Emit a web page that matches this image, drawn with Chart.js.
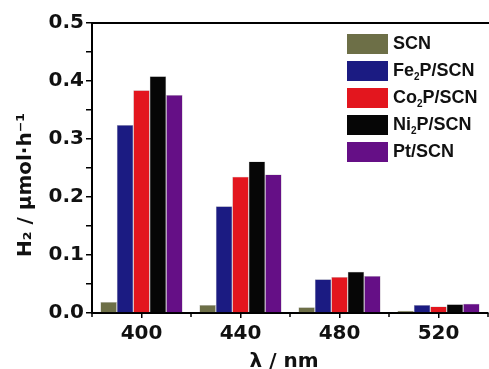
<!DOCTYPE html>
<html>
<head>
<meta charset="utf-8">
<script src="https://cdn.jsdelivr.net/npm/chart.js@4"></script>
<style>
  html, body { margin: 0; padding: 0; background: #fff; overflow: hidden; }
  #wrap { position: relative; width: 489px; height: 369px; }
  #legend { position: absolute; left: 347px; top: 30px; font: bold 18px 'Liberation Sans Narrow', Arial, sans-serif; color: #111; }
  #legend .row { display: flex; align-items: center; height: 27px; }
  #legend .box { width: 41px; height: 20px; margin-right: 5px; }
  #legend sub { font-size: 10px; vertical-align: -4px; }
</style>
</head>
<body>
<div id="wrap">
  <canvas id="chart" width="489" height="369"></canvas>
  <div id="legend"></div>
</div>
<script>
document.addEventListener('DOMContentLoaded', function() {

    // --- data ---
    const wavelengths = ['400', '440', '480', '520'];
    const seriesNames = ['SCN', 'Fe<sub>2</sub>P/SCN', 'Co<sub>2</sub>P/SCN', 'Ni<sub>2</sub>P/SCN', 'Pt/SCN'];
    const seriesPlain = ['SCN', 'Fe₂P/SCN', 'Co₂P/SCN', 'Ni₂P/SCN', 'Pt/SCN'];
    const scn   = [0.019, 0.014, 0.010, 0.004];
    const fe2p  = [0.324, 0.184, 0.058, 0.014];
    const co2p  = [0.384, 0.235, 0.062, 0.011];
    const ni2p  = [0.408, 0.261, 0.071, 0.015];
    const ptscn = [0.376, 0.239, 0.064, 0.016];
    const yTicks = [0, 0.1, 0.2, 0.3, 0.4, 0.5];
    const xTitle = 'λ / nm';
    const yTitle = 'H₂ / μmol·h⁻¹';

    const colors = ['#6d6f47', '#1b1b82', '#e3161e', '#060606', '#650f86'];
    const values = [scn, fe2p, co2p, ni2p, ptscn];

    const tickFont = "'DejaVu Sans', Verdana, sans-serif";

    // top frame line, minor ticks between categories, axis titles
    const framePlugin = {
        id: 'frame',
        afterDraw(chart) {
            const { ctx, chartArea: a, scales } = chart;
            ctx.save();
            ctx.strokeStyle = '#000';
            ctx.lineWidth = 2;
            ctx.beginPath();
            ctx.moveTo(a.left, a.top);
            ctx.lineTo(chart.width, a.top);
            ctx.stroke();
            ctx.lineWidth = 1.5;
            for (let i = 0; i <= wavelengths.length; i++) {
                const x = scales.x.getPixelForValue(i - 0.5);
                ctx.beginPath();
                ctx.moveTo(x, a.bottom);
                ctx.lineTo(x, a.bottom + 4);
                ctx.stroke();
            }
            ctx.fillStyle = '#111';
            ctx.font = "bold 20px " + tickFont;
            ctx.textAlign = 'center';
            ctx.textBaseline = 'alphabetic';
            ctx.fillText(xTitle, (a.left + a.right) / 2 - 6, chart.height - 2);
            ctx.translate(26, (a.top + a.bottom) / 2 + 17);
            ctx.rotate(-Math.PI / 2);
            ctx.textBaseline = 'middle';
            ctx.fillText(yTitle, 0, 0);
            ctx.restore();
        }
    };

    new Chart(document.getElementById('chart'), {
        type: 'bar',
        data: {
            labels: wavelengths,
            datasets: values.map((v, i) => ({
                label: seriesPlain[i],
                data: v,
                backgroundColor: colors[i],
                borderColor: 'rgba(0,0,0,0.3)',
                borderWidth: 0.5,
                categoryPercentage: 0.83,
                barPercentage: 1
            }))
        },
        options: {
            responsive: false,
            animation: false,
            layout: { padding: { top: 23, right: 1, left: 0, bottom: 0 } },
            plugins: { legend: { display: false }, tooltip: { enabled: false } },
            scales: {
                x: {
                    offset: true,
                    grid: { display: true, drawOnChartArea: false, offset: false, tickLength: 5, color: '#000', lineWidth: 1.5 },
                    border: { color: '#000', width: 2 },
                    ticks: { color: '#111', font: { family: tickFont, size: 20, weight: 'bold' }, padding: 4 },
                    afterFit(scale) { scale.height = 56; }
                },
                y: {
                    min: 0,
                    max: 0.5,
                    grid: { display: true, drawOnChartArea: false, tickLength: 6, color: '#000', lineWidth: 1.5 },
                    border: { color: '#000', width: 2 },
                    ticks: {
                        stepSize: 0.05,
                        color: '#111',
                        font: { family: tickFont, size: 20, weight: 'bold' },
                        padding: 2,
                        callback: function(v) {
                            const t = yTicks.find(y => Math.abs(y - v) < 1e-6);
                            return t === undefined ? '' : t.toFixed(1);
                        }
                    },
                    afterFit(scale) { scale.width = 92; }
                }
            }
        },
        plugins: [framePlugin]
    });

    // legend as html so the subscripts stay real text
    document.getElementById('legend').innerHTML = seriesNames.map((n, i) => `
        <div class="row"><span class="box" style="background:${colors[i]}"></span><span>${n}</span></div>
    `).join('');
});
</script>
</body>
</html>
